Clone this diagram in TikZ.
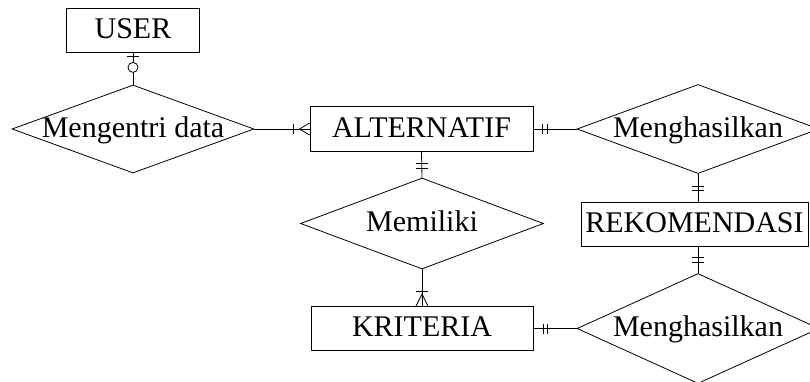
\documentclass[tikz,border=0pt]{standalone}
\usepackage{fontspec}
\setmainfont{Liberation Serif}
\usetikzlibrary{shapes.geometric,calc}
\begin{document}
\begin{tikzpicture}[x=1pt,y=-1pt,
  txt/.style={font=\fontsize{30}{35}\selectfont, text height=21pt, text depth=5pt},
  ent/.style={txt, draw, line width=0.8pt, rectangle, inner sep=0pt, minimum height=44pt},
  rel/.style={draw, line width=0.8pt, diamond, inner sep=0pt},
  lbl/.style={txt, inner sep=0pt},
  conn/.style={line width=0.8pt, line cap=butt}
]
\useasboundingbox (0,0) rectangle (810,381);
\clip (0,0) rectangle (810,381);

% entities and relationships
\node[ent, minimum width=133pt] (user) at (133,30) {USER};
\node[rel, minimum width=242pt, minimum height=88pt] (d1) at (133,129) {};
\node[lbl] (d1t) at (d1.center) {Mengentri data};
\node[ent, minimum width=223pt, minimum height=45pt] (alt) at (421.5,129) {ALTERNATIF};
\node[rel, minimum width=242pt, minimum height=89pt] (d2) at (698,129) {};
\node[lbl] (d2t) at (d2.center) {Menghasilkan};
\node[rel, minimum width=243pt, minimum height=91pt] (d3) at (422,223.5) {};
\node[lbl] (d3t) at (d3.center) {Memiliki};
\node[ent, minimum width=227pt] (rek) at (694.5,224) {REKOMENDASI};
\node[ent, minimum width=222pt] (krit) at (422,328.5) {KRITERIA};
\node[rel, minimum width=242pt, minimum height=110pt] (d4) at (698,328.5) {};
\node[lbl] (d4t) at (d4.center) {Menghasilkan};

% connectors
\draw[conn] (user.south) -- (d1.north);
\draw[conn] (d1.east) -- (alt.west);
\draw[conn] (alt.east) -- (d2.west);
\draw[conn] (alt.south) -- (d3.north);
\draw[conn] (d3.south) -- (krit.north);
\draw[conn] (krit.east) -- (d4.west);
\draw[conn] (d2.south) -- (d2.south |- rek.north);
\draw[conn] (d4.north) -- (d4.north |- rek.south);

% USER end: one bar + circle (zero or one)
\draw[conn] ($(user.south)+(-6,4)$) -- ++(12,0);
\draw[conn, fill=white] ($(user.south)+(0,15)$) circle[radius=5pt];

% ALTERNATIF west: bar + crow's foot
\draw[conn] ($(alt.west)+(-16,-5)$) -- ++(0,10);
\draw[conn] ($(alt.west)+(0,-6)$) -- ($(alt.west)+(-10,0)$) -- ($(alt.west)+(0,6)$);

% ALTERNATIF east: double bar
\draw[conn] ($(alt.east)+(9,-5)$) -- ++(0,10);
\draw[conn] ($(alt.east)+(14,-5)$) -- ++(0,10);

% ALTERNATIF south: double bar
\draw[conn] ($(alt.south)+(-6,11)$) -- ++(12,0);
\draw[conn] ($(alt.south)+(-6,16)$) -- ++(12,0);

% KRITERIA north: bar + crow's foot
\draw[conn] ($(krit.north)+(-6,-15)$) -- ++(12,0);
\draw[conn] ($(krit.north)+(-6,0)$) -- ($(krit.north)+(0,-12)$) -- ($(krit.north)+(6,0)$);

% KRITERIA east: double bar
\draw[conn] ($(krit.east)+(10,-5)$) -- ++(0,10);
\draw[conn] ($(krit.east)+(14,-5)$) -- ++(0,10);

% REKOMENDASI north: double bar
\draw[conn] ($(d2.south |- rek.north)+(-6,-15)$) -- ++(12,0);
\draw[conn] ($(d2.south |- rek.north)+(-6,-11)$) -- ++(12,0);

% REKOMENDASI south: double bar
\draw[conn] ($(d4.north |- rek.south)+(-6,11)$) -- ++(12,0);
\draw[conn] ($(d4.north |- rek.south)+(-6,16)$) -- ++(12,0);
\end{tikzpicture}
\end{document}
